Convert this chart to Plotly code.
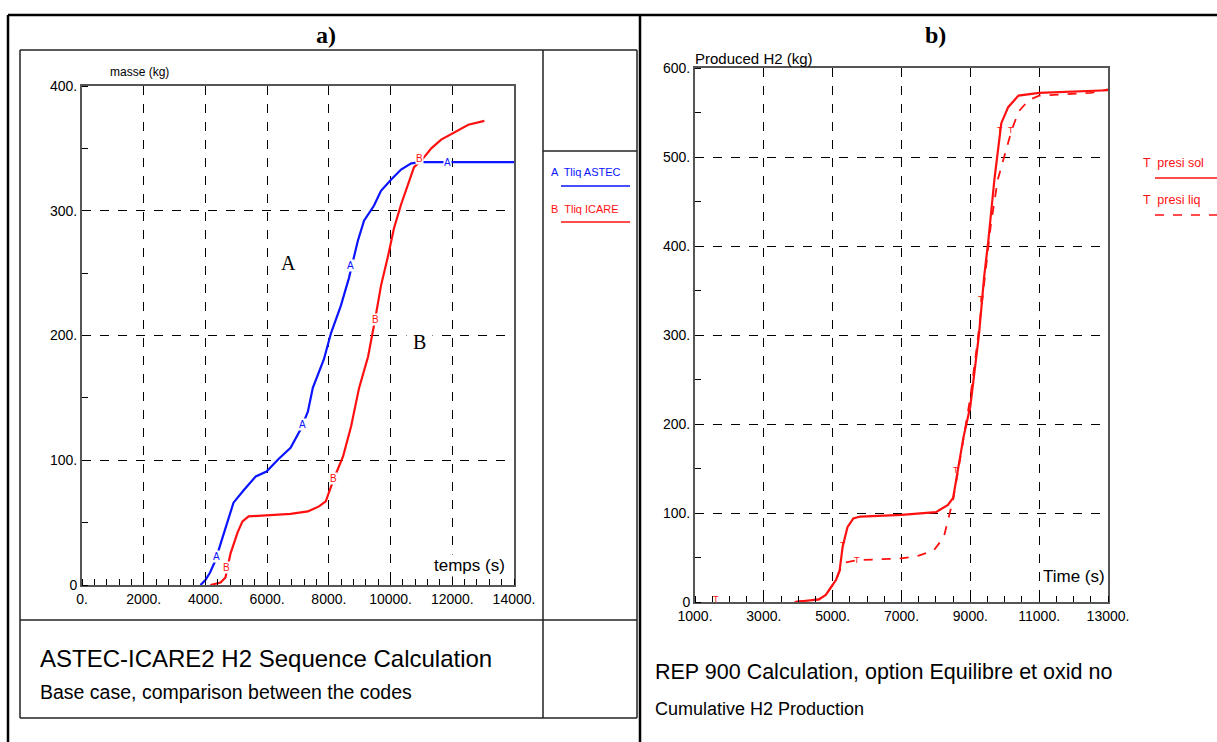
import plotly.graph_objects as go

W, H = 1217, 742
def px(x):
    return x / W
def py(y):
    return 1 - y / H

# ---------------- data: panel a) ----------------
t_astec = [3840, 4000, 4150, 4330, 4490, 4650, 4910, 5240, 5630, 5980, 6370, 6760, 7090, 7320, 7480,
           7840, 8070, 8390, 8650, 8940, 9140, 9460, 9690, 10020, 10340, 10670, 11000, 12000, 14000]
m_astec = [0, 4, 10, 20, 33, 46, 66, 76, 87, 91, 101, 110, 125, 139, 158,
           181, 202, 224, 246, 276, 292, 304, 316, 325, 333, 338, 339, 339, 339]

t_icare = [4160, 4490, 4650, 4810, 5040, 5200, 5400, 5980, 6760, 7320, 7680, 7900, 8160, 8460, 8720,
           8980, 9270, 9500, 9690, 9920, 10110, 10340, 10570, 10760, 10990, 11320, 11640, 12070, 12520, 13040]
m_icare = [0, 2, 6, 25, 42, 51, 55, 56, 57, 59, 63, 67, 85, 103, 127,
           158, 183, 213, 240, 264, 286, 305, 321, 335, 340, 350, 357, 363, 369, 372]

a_mark_t = [4358, 7155, 8715, 11840]
a_mark_m = [23, 129, 256, 339]
b_mark_t = [4683, 8163, 9496, 10950]
b_mark_m = [14, 85, 213, 342]

x_ticks_a = [0, 2000, 4000, 6000, 8000, 10000, 12000, 14000]
x_labels_a = ["0.", "2000.", "4000.", "6000.", "8000.", "10000.", "12000.", "14000."]
y_ticks_a = [0, 100, 200, 300, 400]
y_labels_a = ["0", "100.", "200.", "300.", "400."]

# ---------------- data: panel b) ----------------
t_sol = [3900, 4200, 4600, 4800, 4950, 5100, 5200, 5290, 5430, 5600, 5800, 7000, 8000, 8350, 8500, 8600,
         8800, 9000, 9250, 9400, 9520, 9700, 9900, 10100, 10400, 11000, 13000]
h_sol = [0, 1, 3, 8, 16, 25, 35, 62, 84, 94, 96, 98, 101, 109, 117, 140,
         185, 220, 300, 365, 405, 475, 538, 556, 569, 572, 575]

t_liq = [3900, 4200, 4600, 4800, 4950, 5100, 5200, 5300, 5700, 7000, 7500, 7940, 8230, 8380, 8500, 8700,
         9000, 9200, 9400, 9600, 9800, 10000, 10200, 10400, 10700, 11000, 12500, 13000]
h_liq = [0, 1, 3, 8, 16, 25, 35, 44, 47, 49, 52, 58, 73, 96, 115, 160,
         230, 290, 360, 425, 475, 503, 530, 551, 564, 569, 572, 576]

t_mark_t = [1610, 5290, 5720, 8580, 9300, 9860, 10180]
t_mark_h = [3, 64, 47, 148, 340, 530, 530]

x_ticks_b = [1000, 3000, 5000, 7000, 9000, 11000, 13000]
x_labels_b = ["1000.", "3000.", "5000.", "7000.", "9000.", "11000.", "13000."]
y_ticks_b = [0, 100, 200, 300, 400, 500, 600]
y_labels_b = ["0", "100.", "200.", "300.", "400.", "500.", "600."]

BLUE = "#0a14ff"
RED = "#ff1010"
PLOT_FONT = "Liberation Sans, Arial, sans-serif"
SERIF = "Liberation Serif, Times New Roman, serif"

fig = go.Figure()

fig.add_trace(go.Scatter(x=t_astec, y=m_astec, mode="lines", line=dict(color=BLUE, width=2.2),
                         xaxis="x", yaxis="y", showlegend=False, hoverinfo="skip"))
fig.add_trace(go.Scatter(x=t_icare, y=m_icare, mode="lines", line=dict(color=RED, width=2.2),
                         xaxis="x", yaxis="y", showlegend=False, hoverinfo="skip"))
fig.add_trace(go.Scatter(x=t_sol, y=h_sol, mode="lines", line=dict(color=RED, width=2.2),
                         xaxis="x2", yaxis="y2", showlegend=False, hoverinfo="skip"))
fig.add_trace(go.Scatter(x=t_liq, y=h_liq, mode="lines", line=dict(color=RED, width=1.8, dash="dash"),
                         xaxis="x2", yaxis="y2", showlegend=False, hoverinfo="skip"))

annotations = []
for t, m in zip(a_mark_t, a_mark_m):
    annotations.append(dict(x=t, y=m, xref="x", yref="y", text="A", showarrow=False,
                            xanchor="center", yanchor="middle",
                            font=dict(family=PLOT_FONT, size=10, color=BLUE), bgcolor="white", borderpad=0))
for t, m in zip(b_mark_t, b_mark_m):
    annotations.append(dict(x=t, y=m, xref="x", yref="y", text="B", showarrow=False,
                            xanchor="center", yanchor="middle",
                            font=dict(family=PLOT_FONT, size=10, color=RED), bgcolor="white", borderpad=0))
for t, h in zip(t_mark_t, t_mark_h):
    annotations.append(dict(x=t, y=h, xref="x2", yref="y2", text="T", showarrow=False,
                            xanchor="center", yanchor="middle",
                            font=dict(family=PLOT_FONT, size=9, color=RED)))

def centered(x, y, text, size, family, bg=None, pad=0):
    d = dict(x=px(x), y=py(y), xref="paper", yref="paper", text=text, showarrow=False,
             xanchor="center", yanchor="middle", font=dict(family=family, size=size, color="black"))
    if bg:
        d["bgcolor"] = bg
        d["borderpad"] = pad
    annotations.append(d)

centered(288, 263, "A", 20, SERIF, bg="white", pad=6)
centered(419, 342, "B", 20, SERIF, bg="white", pad=6)
centered(326, 35, "<b>a)</b>", 24, SERIF)
centered(935, 35, "<b>b)</b>", 24, SERIF)

def label(x, y, text, size, color="black", family=PLOT_FONT, bg=None):
    d = dict(x=px(x), y=py(y), xref="paper", yref="paper", text=text, showarrow=False,
             xanchor="left", yanchor="middle", font=dict(family=family, size=size, color=color))
    if bg:
        d["bgcolor"] = bg
        d["borderpad"] = 1
    annotations.append(d)

label(108, 72, "masse (kg)", 12)
label(432, 565, "temps (s)", 17, bg="white")
label(693, 58, "Produced H2 (kg)", 15)
label(1041, 576, "Time (s)", 17, bg="white")

label(549, 172, "A  Tliq ASTEC", 11, color=BLUE)
label(549, 209, "B  Tliq ICARE", 11, color=RED)
label(1141, 163, "T  presi sol", 12.5, color=RED)
label(1141, 200, "T  presi liq", 12.5, color=RED)

label(38, 658, "ASTEC-ICARE2 H2 Sequence Calculation", 24)
label(38, 692, "Base case, comparison between the codes", 19.5)
label(653, 672, "REP 900 Calculation, option Equilibre et oxid no", 21.5)
label(653, 709, "Cumulative H2 Production", 18)

shapes = []
def hline(x0, x1, y, color="black", width=1, dash="solid"):
    shapes.append(dict(type="line", xref="paper", yref="paper", x0=px(x0), x1=px(x1), y0=py(y), y1=py(y),
                       line=dict(color=color, width=width, dash=dash)))
def vline(x, y0, y1, color="black", width=1):
    shapes.append(dict(type="line", xref="paper", yref="paper", x0=px(x), x1=px(x), y0=py(y0), y1=py(y1),
                       line=dict(color=color, width=width)))

hline(8, 1217, 15, width=2.5)
vline(8, 15, 742, width=2.5)
vline(640, 15, 742, width=2.5)
hline(20, 637, 50, color="#222", width=1.5)
hline(20, 637, 620, color="#222", width=1.5)
hline(20, 637, 718, color="#222", width=1.5)
vline(20, 50, 718, color="#222", width=1.5)
vline(637, 50, 718, color="#222", width=1.5)
vline(543, 50, 718, color="#222", width=1.5)
hline(543, 637, 151, color="#222", width=1.5)
hline(561, 630, 186, color=BLUE, width=1.5)
hline(561, 630, 222, color=RED, width=1.5)
hline(1155, 1217, 178, color=RED, width=1.5)
hline(1155, 1217, 215, color=RED, width=1.5, dash="dash")

axis_common = dict(showgrid=True, gridcolor="black", griddash="dash", gridwidth=1,
                   showline=True, linecolor="#555", linewidth=2, mirror=True, zeroline=False,
                   automargin=False,
                   ticks="", tickfont=dict(family=PLOT_FONT, size=14, color="black"), fixedrange=True)

fig.update_layout(
    width=W, height=H, autosize=False,
    margin=dict(l=0, r=0, t=0, b=0, pad=0, autoexpand=False),
    paper_bgcolor="white", plot_bgcolor="white",
    showlegend=False,
    xaxis=dict(domain=[px(82), px(514)], range=[0, 14000], anchor="y",
               tickvals=x_ticks_a, ticktext=x_labels_a,
               minor=dict(dtick=400, ticks="inside", ticklen=6, tickcolor="black", showgrid=False),
               **axis_common),
    yaxis=dict(domain=[py(585), py(86)], range=[0, 400], anchor="x",
               tickvals=y_ticks_a, ticktext=y_labels_a,
               minor=dict(dtick=50, ticks="inside", ticklen=6, tickcolor="black", showgrid=False),
               **axis_common),
    xaxis2=dict(domain=[px(695), px(1108)], range=[1000, 13000], anchor="y2",
                tickvals=x_ticks_b, ticktext=x_labels_b,
                minor=dict(dtick=500, ticks="inside", ticklen=6, tickcolor="black", showgrid=False),
                **axis_common),
    yaxis2=dict(domain=[py(602), py(68)], range=[0, 600], anchor="x2",
                tickvals=y_ticks_b, ticktext=y_labels_b,
                minor=dict(dtick=50, ticks="inside", ticklen=6, tickcolor="black", showgrid=False),
                **axis_common),
    annotations=annotations,
    shapes=shapes,
)

fig.write_html("out.html", config={"displayModeBar": False},
               post_script="document.body.style.margin='0';document.body.style.overflow='hidden';")
